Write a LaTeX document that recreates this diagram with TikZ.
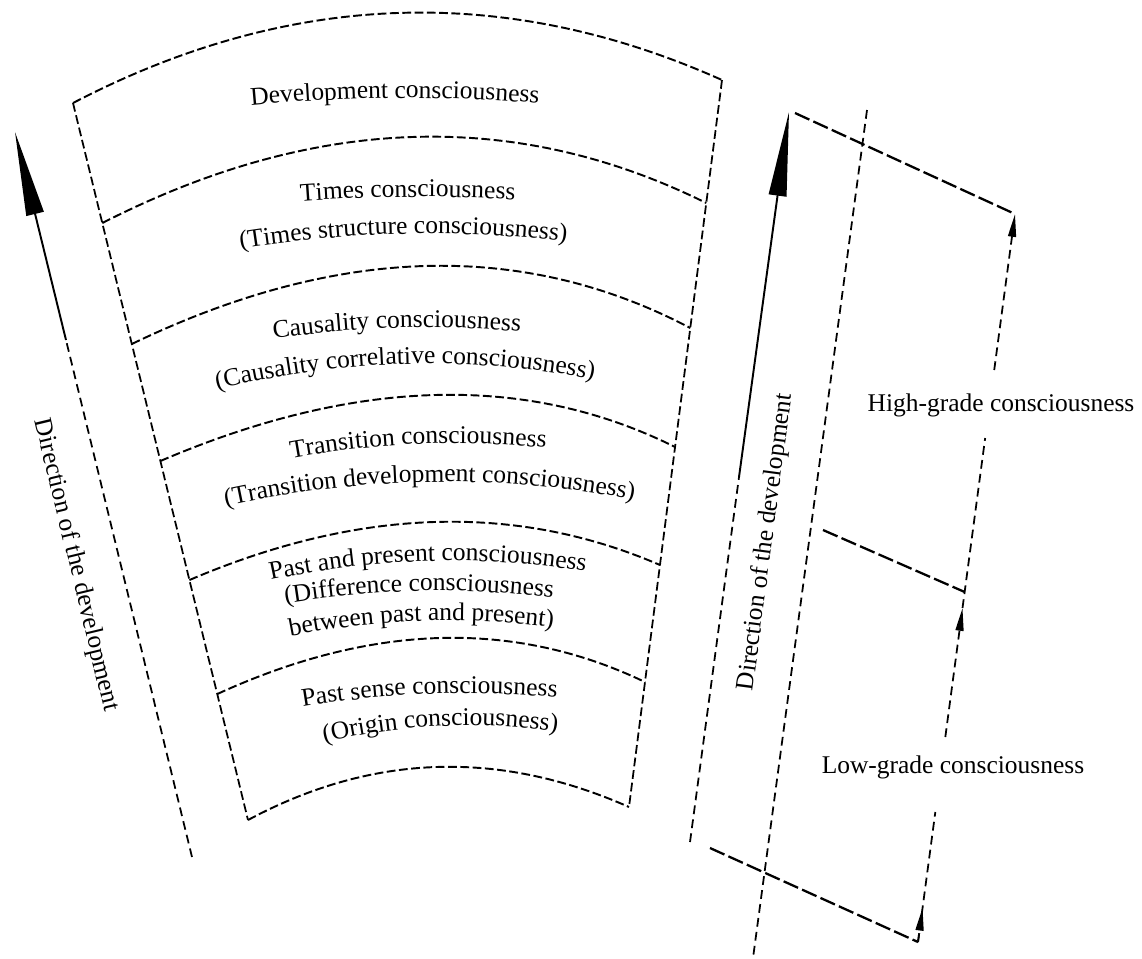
\documentclass[tikz,border=0pt]{standalone}
\usepackage{fontspec}
\setmainfont{Liberation Serif}
\usetikzlibrary{calc,arrows.meta,decorations.text}
\newcommand{\lblfont}{\fontsize{14.5}{17}\selectfont}
\tikzset{
  fanline/.style={line width=1.1pt, dash pattern=on 5pt off 2pt},
  edgeline/.style={line width=1.0pt, dash pattern=on 5pt off 2.2pt},
  vline/.style={line width=1.0pt, dash pattern=on 5pt off 3pt},
  heavyline/.style={line width=1.3pt, dash pattern=on 9pt off 2.5pt},
  bigarrow/.style={line width=1.1pt, -{Triangle[length=48pt,width=10pt]}},
  smallhead/.style={-{Triangle[length=13pt,width=4.5pt]}},
  txt/.style={font=\lblfont, inner sep=1pt},
  bandtext/.style={decorate, decoration={text along path, text align=center}},
}
% arc through L, M (at t=1/2), R
\newcommand{\farc}[3]{%
  \coordinate (Qc) at ($2*(#2)-0.5*(#1)-0.5*(#3)$);
  \draw[fanline] (#1) .. controls ($(#1)!0.6667!(Qc)$) and ($(#3)!0.6667!(Qc)$) .. (#3);
}
% curved text: xm, ym, curvature a, slope b, text
\newcommand{\ctext}[5]{%
  \pgfmathsetmacro\Ax{#1-300}
  \pgfmathsetmacro\Ay{#2+#3*300*300-#4*300}
  \pgfmathsetmacro\Bx{#1-100}
  \pgfmathsetmacro\By{#2-#3*300*100-#4*100}
  \pgfmathsetmacro\Cx{#1+100}
  \pgfmathsetmacro\Cy{#2-#3*300*100+#4*100}
  \pgfmathsetmacro\Dx{#1+300}
  \pgfmathsetmacro\Dy{#2+#3*300*300+#4*300}
  \path[bandtext, decoration={text={|\lblfont|#5}}] (\Ax,\Ay) .. controls (\Bx,\By) and (\Cx,\Cy) .. (\Dx,\Dy);
}
\begin{document}
\begin{tikzpicture}[x=0.02cm, y=-0.02cm]
\path[use as bounding box, fill=white] (0,0) rectangle (1142,958);

% ---------- fan ----------
\coordinate (TL) at (73,103);
\coordinate (BL) at (248,820);
\coordinate (TR) at (722,80);
\coordinate (BR) at (629,807);
\draw[edgeline] (TL) -- (BL);
\draw[edgeline] (TR) -- (BR);

\coordinate (l0) at (TL);
\coordinate (l1) at ($(TL)!0.1674!(BL)$);
\coordinate (l2) at ($(TL)!0.3361!(BL)$);
\coordinate (l3) at ($(TL)!0.4993!(BL)$);
\coordinate (l4) at ($(TL)!0.6653!(BL)$);
\coordinate (l5) at ($(TL)!0.8243!(BL)$);
\coordinate (l6) at (BL);
\coordinate (r0) at (TR);
\coordinate (r1) at ($(TR)!0.1692!(BR)$);
\coordinate (r2) at ($(TR)!0.3411!(BR)$);
\coordinate (r3) at ($(TR)!0.5048!(BR)$);
\coordinate (r4) at ($(TR)!0.6671!(BR)$);
\coordinate (r5) at ($(TR)!0.8281!(BR)$);
\coordinate (r6) at (BR);
\coordinate (m0) at (397,13);
\coordinate (m1) at (412,137);
\coordinate (m2) at (425,266);
\coordinate (m3) at (435,395);
\coordinate (m4) at (434,522);
\coordinate (m5) at (440,638);
\coordinate (m6) at (436,767);
\farc{l0}{m0}{r0}
\farc{l1}{m1}{r1}
\farc{l2}{m2}{r2}
\farc{l3}{m3}{r3}
\farc{l4}{m4}{r4}
\farc{l5}{m5}{r5}
\farc{l6}{m6}{r6}

% ---------- band texts ----------
\ctext{395}{98}{0.0003}{-0.007}{Development consciousness}
\ctext{408}{197}{0.0003}{-0.009}{Times consciousness}
\ctext{404}{234}{0.00042}{-0.021}{(Times structure consciousness)}
\ctext{398}{328}{0.00048}{-0.028}{Causality consciousness}
\ctext{406}{364}{0.00058}{-0.026}{(Causality correlative consciousness)}
\ctext{420}{444}{0.00055}{-0.039}{Transition consciousness}
\ctext{430}{482}{0.0005}{-0.016}{(Transition development consciousness)}
\ctext{429}{561}{0.0006}{-0.026}{Past and present consciousness}
\ctext{420}{591}{0.00055}{-0.02}{(Difference consciousness}
\ctext{423}{621}{0.00062}{-0.032}{between past and present)}
\ctext{431}{694}{0.00051}{-0.035}{Past sense consciousness}
\ctext{443}{726}{0.00079}{-0.042}{(Origin consciousness)}

% ---------- left arrow ----------
\coordinate (La0) at (192,857);
\coordinate (La1) at (66,340);
\coordinate (La2) at (15,132);
\draw[vline] (La0) -- (La1);
\draw[bigarrow] (La1) -- (La2);
\node[txt, rotate=-76.5] (dirL) at (76,565) {Direction of the development};

% ---------- right structure ----------
\coordinate (Ra0) at (690,842);
\coordinate (Ra1) at (739,477);
\coordinate (Ra2) at (789,112);
\draw[vline] (Ra0) -- (Ra1);
\draw[bigarrow] (Ra1) -- (Ra2);
\node[txt, rotate=82.5] (dirR) at (766,542) {Direction of the development};

\coordinate (P1) at (795,113);
\coordinate (P2) at (1015,214);
\coordinate (P3) at (710,848);
\coordinate (P4) at (918,942);
\coordinate (M1) at (867,110);
\coordinate (M2) at (753,958);
\coordinate (S1) at (823,530);
\draw[heavyline] (P1) -- (P2);
\draw[heavyline] (P3) -- (P4);
\draw[vline] (M1) -- (M2);

\coordinate (R0a) at ($(P4)!0.047!(P2)$);
\coordinate (R1) at ($(P4)!0.1786!(P2)$);
\coordinate (R2) at ($(P4)!0.2816!(P2)$);
\coordinate (R3a) at ($(P4)!0.4588!(P2)$);
\coordinate (R3) at ($(P4)!0.4808!(P2)$);
\coordinate (R4) at ($(P4)!0.6923!(P2)$);
\coordinate (R5) at ($(P4)!0.7857!(P2)$);
\draw[heavyline] (S1) -- (R3);
\draw[vline] (P4) -- (R1);
\draw[vline, smallhead] (P4) -- (R0a);
\draw[vline, smallhead] (R2) -- (R3a);
\draw[vline] (R3a) -- (R3) -- (R4);
\draw[vline, smallhead] (R5) -- (P2);

\node[txt, anchor=base] (high) at (1001,411) {High-grade consciousness};
\node[txt, anchor=base] (low) at (953,773) {Low-grade consciousness};
\end{tikzpicture}
\end{document}
